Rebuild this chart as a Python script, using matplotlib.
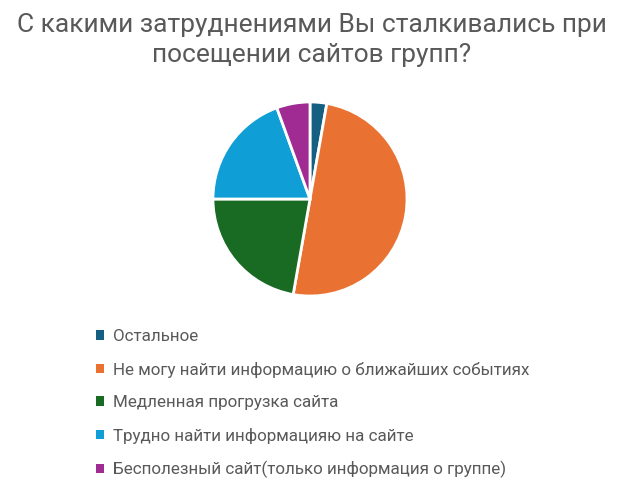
import matplotlib
matplotlib.use("Agg")
import matplotlib.pyplot as plt

labels = [
    "Остальное",
    "Не могу найти информацию о ближайших событиях",
    "Медленная прогрузка сайта",
    "Трудно найти информацияю на сайте",
    "Бесполезный сайт(только информация о группе)",
]
values = [1, 18, 8, 7, 2]
colors = ["#156082", "#E97132", "#196B24", "#0F9ED5", "#A02B93"]
title = "С какими затруднениями Вы сталкивались при\nпосещении сайтов групп?"

plt.rcParams["font.family"] = ["Roboto", "DejaVu Sans"]
text_color = "#595959"

fig = plt.figure(figsize=(6.24, 4.88), dpi=100)
fig.text(0.5, 1 - 13 / 488, title, ha="center", va="top", fontsize=19,
         color=text_color, linespacing=1.32)

# pie centred at (310, 199) px, radius ~98 px
r = 98
ax = fig.add_axes([(310 - r) / 624, 1 - (199 + r) / 488, 2 * r / 624, 2 * r / 488])
wedges, _ = ax.pie(values, colors=colors, startangle=90, counterclock=False,
                   radius=1.0, wedgeprops=dict(edgecolor="white", linewidth=2))
ax.set_xlim(-1.01, 1.01)
ax.set_ylim(-1.01, 1.01)
ax.set_aspect("equal")

leg = fig.legend(wedges, labels, loc="upper left",
                 bbox_to_anchor=(96 / 624, 1 - 329 / 488), frameon=False,
                 fontsize=12.25, labelcolor=text_color, handlelength=0.45,
                 handleheight=0.45, handletextpad=0.55, labelspacing=1.03,
                 borderpad=0, borderaxespad=0)
for h in leg.legend_handles:
    h.set_edgecolor("none")

fig.savefig("out.png", dpi=100)
